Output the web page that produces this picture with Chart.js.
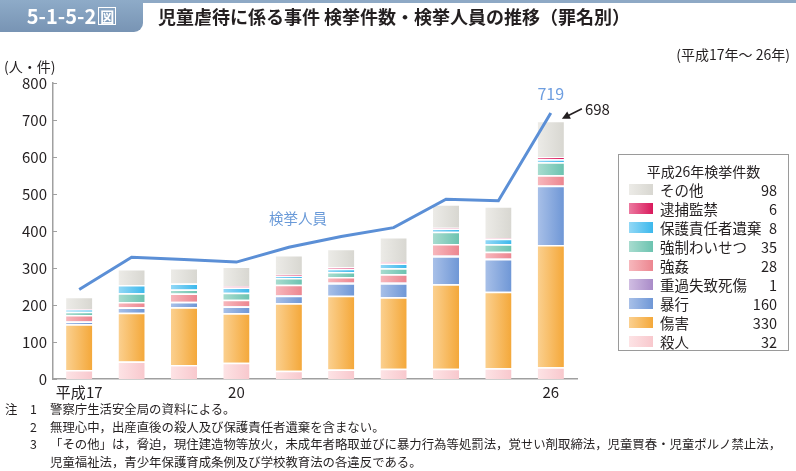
<!DOCTYPE html>
<html>
<head>
<meta charset="utf-8">
<script src="https://cdn.jsdelivr.net/npm/chart.js@4.4.1/dist/chart.umd.min.js"></script>
<style>
  body { margin: 0; background: #fff; }
  #wrap { position: relative; width: 796px; height: 471px; overflow: hidden;
          font-family: "Noto Sans CJK JP", "Noto Sans", sans-serif; color: #231f20; }
  #chart { position: absolute; left: 0; top: 0; }
  .topline { position: absolute; left: 0; top: 0; width: 796px; height: 3px; background: #8ea9c5; }
  .tab { position: absolute; left: 0; top: 0; width: 143px; height: 32px;
         background: linear-gradient(#8eabc8, #7894b4); border-bottom-right-radius: 9px;
         color: #fff; font-size: 20px; font-weight: bold; line-height: 32px; text-align: center; }
  .tab span { display: inline-block; border: 1.5px solid #fff; font-size: 14px; line-height: 16px;
              width: 16px; height: 16px; vertical-align: 2px; margin-left: 2px; }
  .title { position: absolute; left: 158px; top: 3px; font-size: 18px; font-weight: bold; line-height: 26px; }
  .period { position: absolute; right: 6px; top: 44px; font-size: 14px; }
  .unit { position: absolute; left: 4px; top: 56px; font-size: 14px; }
  .notes { position: absolute; left: 0; top: 401px; font-size: 12.4px; line-height: 17.6px; }
  .notes div { white-space: nowrap; position: relative; padding-left: 50px; }
  .notes b { font-weight: normal; position: absolute; }
  #legend { position: absolute; left: 618px; top: 154px; width: 171px; height: 197px;
            border: 1px solid #9a9a9a; box-sizing: border-box; }
  #legend .lt { position: absolute; left: 0; width: 100%; top: 6px; text-align: center; font-size: 14px; }
  #legend .row { position: absolute; left: 0; width: 100%; height: 19px; font-size: 14.5px; line-height: 19px; }
  #legend .sw { position: absolute; left: 10px; top: 4px; width: 24px; height: 11px; }
  #legend .nm { position: absolute; left: 41px; }
  #legend .vl { position: absolute; right: 11px; }
</style>
</head>
<body>
<div id="wrap">
  <canvas id="chart" width="796" height="471"></canvas>
  <div class="topline"></div>
  <div class="tab">5-1-5-2<span>図</span></div>
  <div class="title">児童虐待に係る事件 検挙件数・検挙人員の推移（罪名別）</div>
  <div class="period">(平成17年～ 26年)</div>
  <div class="unit">(人・件)</div>
  <div id="legend"><div class="lt">平成26年検挙件数</div></div>
  <div class="notes">
    <div><b style="left:5px">注</b><b style="left:30px">1</b>警察庁生活安全局の資料による。</div>
    <div><b style="left:30px">2</b>無理心中，出産直後の殺人及び保護責任者遺棄を含まない。</div>
    <div><b style="left:30px">3</b>「その他」は，脅迫，現住建造物等放火，未成年者略取並びに暴力行為等処罰法，覚せい剤取締法，児童買春・児童ポルノ禁止法，</div>
    <div>児童福祉法，青少年保護育成条例及び学校教育法の各違反である。</div>
  </div>
</div>
<script>
// years (平成)
var years = ['17', '18', '19', '20', '21', '22', '23', '24', '25', '26'];
var xTickLabels = ['平成17', '', '', '20', '', '', '', '', '', '26'];

// 検挙件数 by 罪名
var satsujin   = [24, 47, 38, 44, 22, 26, 28, 28, 29, 32];       // 殺人
var shougai    = [124, 132, 156, 134, 183, 199, 193, 228, 207, 330]; // 傷害
var boukou     = [7, 14, 14, 18, 20, 34, 38, 76, 88, 160];       // 暴行
var jukashitsu = [1, 1, 1, 1, 2, 2, 2, 2, 2, 1];                 // 重過失致死傷
var goukan     = [17, 14, 22, 17, 28, 15, 22, 31, 18, 28];       // 強姦
var kyousei    = [9, 24, 11, 19, 18, 13, 16, 33, 20, 35];        // 強制わいせつ
var hogo       = [6, 22, 16, 14, 5, 9, 13, 9, 15, 8];            // 保護責任者遺棄
var taiho      = [1, 0, 0, 4, 4, 4, 4, 2, 2, 6];                 // 逮捕監禁
var sonota     = [33, 43, 42, 53, 53, 50, 68, 63, 86, 98];       // その他

// 検挙人員
var jinin = [242, 329, 323, 316, 356, 385, 409, 486, 482, 719];

var yTicks = [0, 100, 200, 300, 400, 500, 600, 700, 800];

// bottom to top
var series = [
  { name: '殺人', data: satsujin, light: '#fde3e5', dark: '#f8c8cd' },
  { name: '傷害', data: shougai, light: '#fbd08f', dark: '#f4a83a' },
  { name: '暴行', data: boukou, light: '#a8c0e8', dark: '#6f97d6' },
  { name: '重過失致死傷', data: jukashitsu, light: '#d0bde2', dark: '#a98bc8' },
  { name: '強姦', data: goukan, light: '#f7b7bc', dark: '#ec8690' },
  { name: '強制わいせつ', data: kyousei, light: '#a8dccf', dark: '#6cc3b0' },
  { name: '保護責任者遺棄', data: hogo, light: '#92d8f6', dark: '#3cb8ec' },
  { name: '逮捕監禁', data: taiho, light: '#ec7aa0', dark: '#d9195c' },
  { name: 'その他', data: sonota, light: '#ecebe7', dark: '#d8d7d1' }
];

function barFill(light, dark) {
  return function (c) {
    var el = c.element;
    if (!el || !isFinite(el.x) || !el.width) return dark;
    var g = c.chart.ctx.createLinearGradient(el.x - el.width / 2, 0, el.x + el.width / 2, 0);
    g.addColorStop(0, light);
    g.addColorStop(1, dark);
    return g;
  };
}

// legend box (top to bottom = reverse stack)
var legend = document.getElementById('legend');
series.slice().reverse().forEach(function (s, i) {
  var row = document.createElement('div');
  row.className = 'row';
  row.style.top = (25 + i * 18.95) + 'px';
  row.innerHTML = '<div class="sw" style="background:linear-gradient(90deg,' + s.light + ',' + s.dark + ')"></div>' +
    '<span class="nm">' + s.name + '</span><span class="vl">' + s.data[9] + '</span>';
  legend.appendChild(row);
});

var datasets = series.map(function (s) {
  return {
    type: 'bar',
    label: s.name,
    data: s.data,
    backgroundColor: barFill(s.light, s.dark),
    borderColor: '#ffffff',
    borderWidth: { top: 1.5, bottom: 0, left: 0, right: 0 },
    borderSkipped: false,
    barPercentage: 0.5,
    categoryPercentage: 1,
    stack: 'k',
    order: 1
  };
});
datasets.push({
  type: 'line',
  label: '検挙人員',
  data: jinin,
  borderColor: '#5b8fd6',
  borderWidth: 3,
  pointRadius: 0,
  tension: 0,
  order: 0
});

// small ticks inside the y axis + annotations
var extras = {
  id: 'extras',
  afterDraw: function (chart) {
    var ctx = chart.ctx, y = chart.scales.y, x = chart.scales.x, a = chart.chartArea;
    ctx.save();
    ctx.strokeStyle = '#a0a0a0';
    ctx.lineWidth = 1;
    yTicks.forEach(function (v) {
      var py = Math.round(y.getPixelForValue(v)) + 0.5;
      ctx.beginPath(); ctx.moveTo(a.left, py); ctx.lineTo(a.left + 4, py); ctx.stroke();
    });
    var lineMeta = chart.getDatasetMeta(series.length);
    var p = lineMeta.data[9];
    ctx.font = '16px "Noto Sans CJK JP"';
    ctx.fillStyle = '#6e9ee0';
    ctx.textAlign = 'center';
    ctx.textBaseline = 'middle';
    ctx.fillText(String(jinin[9]), p.x, p.y - 19);

    // 検挙人員 label
    ctx.font = '14.5px "Noto Sans CJK JP"';
    ctx.fillStyle = '#6a9ad8';
    var lx = (x.getPixelForValue(4) + x.getPixelForValue(5)) / 2 - 17;
    ctx.fillText('検挙人員', lx, y.getPixelForValue(434));

    // 698 with arrow
    var total = 0;
    series.forEach(function (s) { total += s.data[9]; });
    var barMeta = chart.getDatasetMeta(series.length - 1);
    var b = barMeta.data[9];
    var tipX = b.x + b.width / 2 - 2, tipY = y.getPixelForValue(total) - 2;
    var tailX = tipX + 20, tailY = tipY - 10;
    ctx.strokeStyle = '#231f20';
    ctx.fillStyle = '#231f20';
    ctx.lineWidth = 1.5;
    ctx.beginPath(); ctx.moveTo(tailX, tailY); ctx.lineTo(tipX + 5, tipY - 2.5); ctx.stroke();
    var ang = Math.atan2(tipY - tailY, tipX - tailX);
    ctx.beginPath();
    ctx.moveTo(tipX, tipY);
    ctx.lineTo(tipX - 8 * Math.cos(ang) + 4 * Math.sin(ang), tipY - 8 * Math.sin(ang) - 4 * Math.cos(ang));
    ctx.lineTo(tipX - 8 * Math.cos(ang) - 4 * Math.sin(ang), tipY - 8 * Math.sin(ang) + 4 * Math.cos(ang));
    ctx.closePath(); ctx.fill();
    ctx.font = '15px "Noto Sans CJK JP"';
    ctx.textAlign = 'left';
    ctx.fillText(String(total), tailX + 3, tailY + 1);
    ctx.restore();
  }
};

var chart = new Chart(document.getElementById('chart').getContext('2d'), {
  data: { labels: years, datasets: datasets },
  options: {
    responsive: false,
    animation: false,
    layout: { padding: { left: 10, right: 219, top: 83, bottom: 70 } },
    plugins: { legend: { display: false }, tooltip: { enabled: false } },
    scales: {
      x: {
        stacked: true,
        grid: { display: false, drawTicks: false },
        border: { color: '#a0a0a0', width: 1.5 },
        ticks: {
          padding: 4, maxRotation: 0, autoSkip: false, color: '#231f20',
          font: { size: 15, family: '"Noto Sans CJK JP"' },
          callback: function (v, i) { return xTickLabels[i]; }
        },
        afterFit: function (s) { s.height = 22; }
      },
      y: {
        stacked: true,
        min: 0, max: 800,
        grid: { display: false, drawTicks: false },
        border: { color: '#a0a0a0', width: 1.5 },
        ticks: {
          stepSize: 100, padding: 6, color: '#231f20',
          font: { size: 15, family: '"Noto Sans CJK JP"' }
        },
        afterFit: function (s) { s.width = 43; }
      }
    }
  },
  plugins: [extras]
});
chart.update();
</script>
</body>
</html>
